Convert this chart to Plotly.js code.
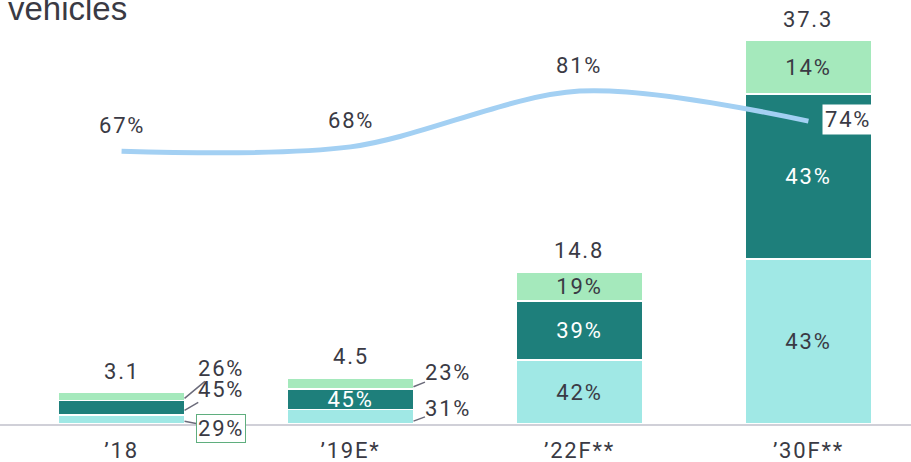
<!DOCTYPE html>
<html>
<head>
<meta charset="utf-8">
<script src="https://cdn.plot.ly/plotly-3.0.1.min.js"></script>
<style>
  html, body { margin: 0; padding: 0; background: #ffffff; }
  #chart { width: 911px; height: 462px; }
  svg text { letter-spacing: 1.8px; }
  svg text[style*="Liberation"] { letter-spacing: 0px; }
</style>
</head>
<body>
<div id="chart"></div>
<script>
// ---- data ----
var categories = ["\u201918", "\u201919E*", "\u201922F**", "\u201930F**"];
var totals = [3.1, 4.5, 14.8, 37.3];
var shareBottom = [29, 31, 42, 43];
var shareMiddle = [45, 45, 39, 43];
var shareTop = [26, 23, 19, 14];
var lineShare = [67, 68, 81, 74];
var titleText = "vehicles";

// ---- styles ----
var cBottom = "#a0e8e5";
var cMiddle = "#1e7f7b";
var cTop = "#a5e9bc";
var cLine = "#a3d0f3";
var cText = "#3a3a44";
var FONT = "Roboto, 'Noto Sans', sans-serif";
var FS = 22;

function seg(shares) {
  return totals.map(function (t, i) { return t * shares[i] / 100; });
}
function pct(shares, showIdx) {
  return shares.map(function (s, i) { return showIdx.indexOf(i) >= 0 ? s + "%" : ""; });
}

var barCommon = {
  type: "bar",
  x: categories,
  width: 0.555,
  textposition: "inside",
  insidetextanchor: "middle",
  constraintext: "none",
  textangle: 0,
  hoverinfo: "skip",
  cliponaxis: false
};

var traces = [
  Object.assign({}, barCommon, {
    y: seg(shareBottom),
    text: pct(shareBottom, [2, 3]),
    marker: { color: cBottom, line: { color: "#ffffff", width: 1.5 } },
    textfont: { family: FONT, size: FS, color: cText }
  }),
  Object.assign({}, barCommon, {
    y: seg(shareMiddle),
    text: pct(shareMiddle, [1, 2, 3]),
    marker: { color: cMiddle, line: { color: "#ffffff", width: 1.5 } },
    textfont: { family: FONT, size: FS, color: "#ffffff" }
  }),
  Object.assign({}, barCommon, {
    y: seg(shareTop),
    text: pct(shareTop, [2, 3]),
    marker: { color: cTop, line: { color: "#ffffff", width: 1.5 } },
    textfont: { family: FONT, size: FS, color: cText }
  }),
  {
    type: "scatter",
    mode: "lines",
    x: categories,
    y: lineShare,
    yaxis: "y2",
    line: { color: cLine, width: 5, shape: "spline", smoothing: 0.9 },
    hoverinfo: "skip"
  }
];

var annotations = [];
var baseFont = { family: FONT, size: FS, color: cText };

// totals above bars
totals.forEach(function (t, i) {
  annotations.push({
    x: i, y: t, xref: "x", yref: "y",
    text: String(t), showarrow: false, yshift: 21,
    font: baseFont
  });
});

// line labels
lineShare.forEach(function (v, i) {
  var last = i === lineShare.length - 1;
  annotations.push({
    x: i, y: v, xref: "x", yref: "y2",
    text: v + "%", showarrow: false,
    xshift: last ? 40 : 0, yshift: last ? 2 : 26,
    bgcolor: last ? "#ffffff" : "rgba(0,0,0,0)",
    borderpad: 2,
    font: baseFont
  });
});

// small-bar outside labels with leader lines
function leader(xi, yVal, txt, ax, ay, boxed) {
  var a = {
    x: xi + 0.275, y: yVal, xref: "x", yref: "y",
    text: txt, showarrow: true, arrowhead: 0, arrowwidth: 1.5,
    arrowcolor: "#6b6b7a", ax: ax, ay: ay, standoff: 0,
    borderpad: 0,
    font: baseFont
  };
  if (boxed) {
    a.bordercolor = "#5fae7e"; a.borderwidth = 1; a.bgcolor = "#ffffff"; a.borderpad = 1;
  }
  return a;
}
var s18 = [seg(shareBottom)[0], seg(shareMiddle)[0], seg(shareTop)[0]];
annotations.push(leader(0, s18[0] + s18[1] + s18[2] * 0.25, shareTop[0] + "%", 36, -30, false));
annotations.push(leader(0, s18[0] + s18[1] * 0.3, shareMiddle[0] + "%", 36, -21, false));
annotations.push(leader(0, s18[0] * 0.3, shareBottom[0] + "%", 36, 7, true));
var s19 = [seg(shareBottom)[1], seg(shareMiddle)[1], seg(shareTop)[1]];
annotations.push(leader(1, s19[0] + s19[1] + s19[2] * 0.2, shareTop[1] + "%", 35, -14, false));
annotations.push(leader(1, s19[0] * 0.2, shareBottom[1] + "%", 35, -13, false));

// cut-off title
annotations.push({
  xref: "paper", yref: "paper", x: 0, y: 1, xanchor: "left", yanchor: "bottom",
  xshift: 6, yshift: -19,
  text: titleText, showarrow: false,
  font: { family: "'Liberation Sans', Arial, sans-serif", size: 33, color: "#3a3a44" }
});

var layout = {
  width: 911, height: 462,
  margin: { l: 0, r: 0, t: 10, b: 38, pad: 0 },
  paper_bgcolor: "#ffffff", plot_bgcolor: "#ffffff",
  barmode: "stack",
  showlegend: false,
  xaxis: {
    type: "category",
    range: [-0.531, 3.448],
    showline: true, linecolor: "#d0d0d8", linewidth: 2,
    showgrid: false, zeroline: false, ticks: "",
    ticklabelstandoff: 6,
    tickfont: { family: FONT, size: FS, color: cText },
    fixedrange: true
  },
  yaxis: { range: [0, 40.27], visible: false, fixedrange: true },
  yaxis2: { range: [3.4, 99.9], overlaying: "y", visible: false, fixedrange: true },
  annotations: annotations
};

Plotly.newPlot("chart", traces, layout, { staticPlot: true, displayModeBar: false });
</script>
</body>
</html>
